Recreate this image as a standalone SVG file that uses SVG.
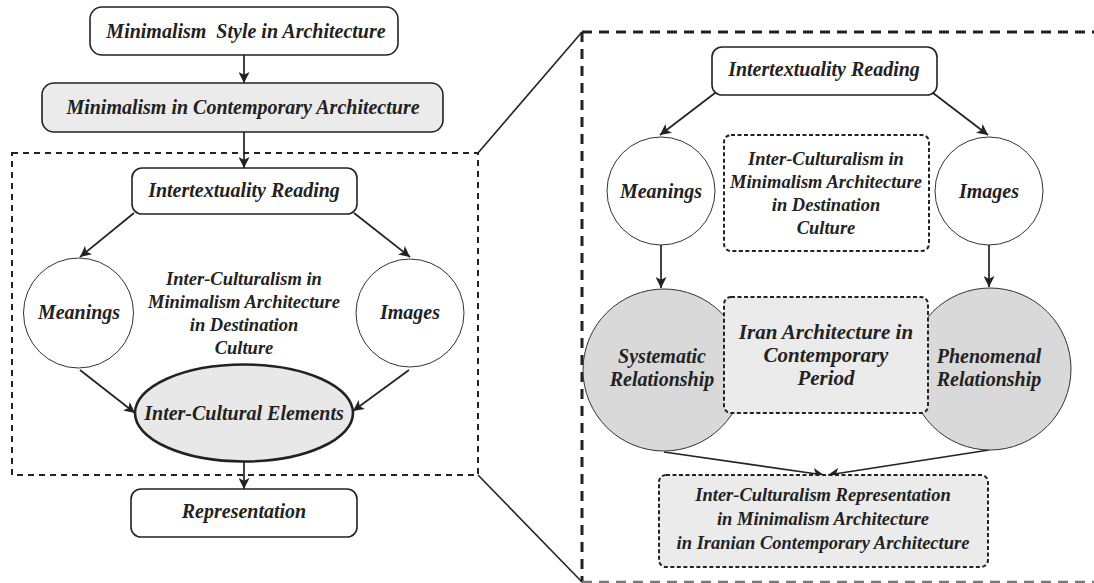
<svg xmlns="http://www.w3.org/2000/svg" width="1094" height="583" viewBox="0 0 1094 583">
<defs>
<marker id="ah" viewBox="0 0 10 10" refX="10" refY="5" markerWidth="11" markerHeight="11" markerUnits="userSpaceOnUse" orient="auto">
<path d="M0,0 L10,5 L0,10 L2.5,5 Z" fill="#222"/>
</marker>
<style>
text{font-family:"Liberation Serif","Times New Roman",serif;font-weight:bold;font-style:italic;fill:#222;text-anchor:middle}
.t{font-size:20px}
.s{font-size:18.5px}
.box{fill:#fff;stroke:#222;stroke-width:1.6}
.gbox{fill:#ebebeb;stroke:#222;stroke-width:1.6}
.circ{fill:#fff;stroke:#333;stroke-width:1}
.gcirc{fill:#d9d9d9;stroke:#333;stroke-width:1}
.dbox{fill:#fff;stroke:#222;stroke-width:2;stroke-dasharray:4 2.5}
.dgbox{fill:#ebebeb;stroke:#222;stroke-width:2;stroke-dasharray:4 2.5}
.arr{stroke:#222;stroke-width:1.7;fill:none;marker-end:url(#ah)}
.ln{stroke:#222;stroke-width:1.6;fill:none}
</style>
</defs>
<rect width="1094" height="583" fill="#fff"/>

<g id="frames">
<rect x="12" y="153" width="466" height="322" fill="none" stroke="#222" stroke-width="2" stroke-dasharray="6 5"/>
<path d="M582,32 H1100" fill="none" stroke="#222" stroke-width="3" stroke-dasharray="10 7"/>
<path d="M582,32 V582" fill="none" stroke="#222" stroke-width="3" stroke-dasharray="10 7"/>
<path d="M582,582 H1100" fill="none" stroke="#777" stroke-width="2.5" stroke-dasharray="10 7"/>
</g>

<g id="connectors">
<line class="arr" x1="244" y1="55" x2="244" y2="83"/>
<line class="arr" x1="244" y1="132" x2="244" y2="168"/>
<line class="arr" x1="134" y1="213" x2="80" y2="257"/>
<line class="arr" x1="354" y1="213" x2="410" y2="257"/>
<line class="arr" x1="80" y1="370" x2="135" y2="413"/>
<line class="arr" x1="409" y1="370" x2="353" y2="411"/>
<line class="arr" x1="244" y1="462" x2="244" y2="489"/>
<line class="ln" x1="478" y1="153" x2="582" y2="32"/>
<line class="ln" x1="478" y1="475" x2="582" y2="582"/>
<line class="arr" x1="715" y1="93" x2="660" y2="135"/>
<line class="arr" x1="933" y1="93" x2="988" y2="135"/>
<line class="arr" x1="661" y1="245" x2="661" y2="288"/>
<line class="arr" x1="989" y1="245" x2="989" y2="287"/>
<line class="arr" x1="664" y1="452" x2="824" y2="475"/>
<line class="arr" x1="989" y1="450" x2="828" y2="475"/>
</g>

<g id="n1">
<rect class="box" x="90" y="7" width="308" height="48" rx="12"/>
<text class="t" x="246" y="38">Minimalism&#160; Style in Architecture</text>
</g>
<g id="n2">
<rect class="gbox" x="42" y="83" width="401" height="49" rx="12"/>
<text class="t" x="243" y="114">Minimalism in Contemporary Architecture</text>
</g>
<g id="n3">
<rect class="box" x="132" y="168" width="225" height="46" rx="10"/>
<text class="t" x="244" y="197">Intertextuality Reading</text>
</g>
<g id="n4">
<circle class="circ" cx="78.5" cy="313" r="55"/>
<text class="t" x="79" y="319">Meanings</text>
</g>
<g id="n5">
<circle class="circ" cx="410" cy="313" r="54"/>
<text class="t" x="410" y="319">Images</text>
</g>
<g id="n6">
<text class="s" x="244" y="285">Inter-Culturalism in</text>
<text class="s" x="244" y="308">Minimalism Architecture</text>
<text class="s" x="244" y="331">in Destination</text>
<text class="s" x="244" y="354">Culture</text>
</g>
<g id="n7">
<ellipse cx="244" cy="413" rx="109" ry="48.5" fill="#e8e8e8" stroke="#222" stroke-width="2.6"/>
<text class="t" x="244" y="420">Inter-Cultural Elements</text>
</g>
<g id="n8">
<rect class="box" x="131" y="489" width="226" height="48" rx="10"/>
<text class="t" x="244" y="518">Representation</text>
</g>

<g id="r1">
<rect class="box" x="712" y="47" width="225" height="48" rx="10"/>
<text class="t" x="824" y="76">Intertextuality Reading</text>
</g>
<g id="r2">
<circle class="circ" cx="661" cy="191" r="54"/>
<text class="t" x="661" y="198">Meanings</text>
</g>
<g id="r3">
<circle class="circ" cx="989" cy="191" r="54"/>
<text class="t" x="989" y="198">Images</text>
</g>
<g id="r4">
<rect class="dbox" x="724" y="135" width="205" height="116" rx="7"/>
<text class="s" x="826" y="165">Inter-Culturalism in</text>
<text class="s" x="826" y="188">Minimalism Architecture</text>
<text class="s" x="826" y="211">in Destination</text>
<text class="s" x="826" y="234">Culture</text>
</g>
<g id="r5">
<circle class="gcirc" cx="664" cy="370" r="81"/>
<text class="t" x="662" y="363">Systematic</text>
<text class="t" x="662" y="386">Relationship</text>
</g>
<g id="r6">
<circle class="gcirc" cx="990" cy="369" r="81"/>
<text class="t" x="989" y="363">Phenomenal</text>
<text class="t" x="989" y="386">Relationship</text>
</g>
<g id="r7">
<rect class="dgbox" x="724" y="297" width="204" height="116" rx="7"/>
<text x="826" y="339" style="font-size:21px">Iran Architecture in</text>
<text x="826" y="362" style="font-size:21px">Contemporary</text>
<text x="826" y="385" style="font-size:21px">Period</text>
</g>
<g id="r8">
<rect class="dgbox" x="659" y="475" width="329" height="92" rx="7"/>
<text class="s" x="823" y="501">Inter-Culturalism Representation</text>
<text class="s" x="823" y="525">in Minimalism Architecture</text>
<text class="s" x="823" y="549">in Iranian Contemporary Architecture</text>
</g>
</svg>
